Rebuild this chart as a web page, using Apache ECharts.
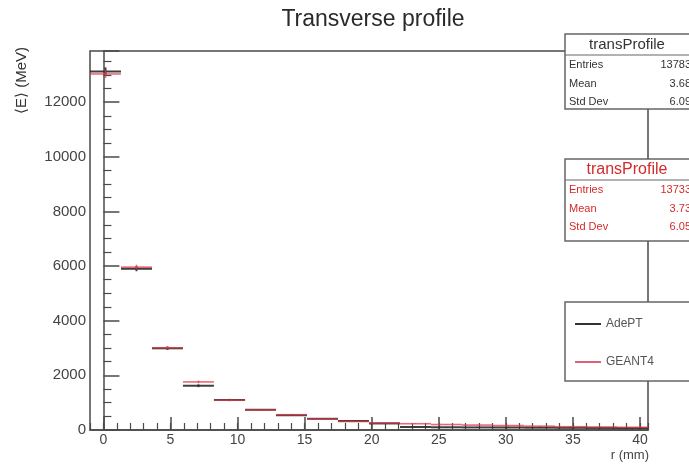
<!DOCTYPE html>
<html>
<head>
<meta charset="utf-8">
<script src="https://cdn.jsdelivr.net/npm/echarts@6/dist/echarts.min.js"></script>
<style>
  html, body { margin: 0; padding: 0; background: #fff; }
  #chart { width: 689px; height: 465px; }
</style>
</head>
<body>
<div id="chart"></div>
<script>
// bin edges of the histogram, in mm
const binEdges = [-1, 1.31, 3.62, 5.93, 8.24, 10.56, 12.87, 15.18, 17.49, 19.8,
                  22.11, 24.42, 26.73, 29.04, 31.36, 33.67, 35.98, 38.29, 40.6]
// <E> per bin, MeV
const adept = [13120, 5900, 2990, 1620, 1100, 740, 540, 410, 330, 240, 110, 100, 95, 90, 85, 80, 75, 70]
const adeptErr = [150, 90, 60, 50, 40, 30, 25, 20, 20, 15, 10, 10, 10, 10, 10, 10, 10, 10]
const geant4 = [13030, 5960, 3010, 1760, 1090, 730, 560, 400, 310, 260, 230, 200, 180, 160, 140, 120, 110, 100]
const geant4Err = [150, 90, 60, 50, 40, 30, 25, 20, 20, 15, 10, 10, 10, 10, 10, 10, 10, 10]
const xMajor = [0, 5, 10, 15, 20, 25, 30, 35, 40]

const chart = echarts.init(document.getElementById('chart'))

function toBins(vals, errs) {
    return vals.map((v, i) => [binEdges[i], binEdges[i + 1], v, errs[i]])
}

function histRender(color, width, opacity) {
    return function (params, api) {
        const lo = api.value(0), hi = api.value(1), v = api.value(2), e = api.value(3)
        const mid = (lo + hi) / 2
        const a = api.coord([lo, v]), b = api.coord([hi, v])
        const c = api.coord([mid, v - e]), d = api.coord([mid, v + e])
        const style = { stroke: color, lineWidth: width, opacity: opacity }
        return {
            type: 'group',
            children: [
                { type: 'line', shape: { x1: a[0], y1: a[1], x2: b[0], y2: b[1] }, style: style },
                { type: 'line', shape: { x1: c[0], y1: c[1], x2: d[0], y2: d[1] }, style: style }
            ]
        }
    }
}

const axisColor = '#4a4a4a'
const textColor = '#444'
const font = 'Liberation Sans, Arial, sans-serif'

function statBox(top, bottom, color, titleSize, vals) {
    const x0 = 565
    const rows = [['Entries', vals[0]], ['Mean', vals[1]], ['Std Dev', vals[2]]]
    const items = [
        { type: 'rect', shape: { x: x0, y: top, width: 140, height: bottom - top },
          style: { fill: '#fff', stroke: '#666', lineWidth: 1.5 }, z: 100 },
        { type: 'line', shape: { x1: x0, y1: top + 21, x2: 689, y2: top + 21 },
          style: { stroke: '#666', lineWidth: 1 }, z: 101 },
        { type: 'text', x: 627, y: top + 11, z: 101,
          style: { text: 'transProfile', fill: color, font: titleSize + 'px ' + font,
                   textAlign: 'center', textVerticalAlign: 'middle' } }
    ]
    rows.forEach((r, i) => {
        const y = top + 31 + i * 18.5
        items.push({ type: 'text', x: x0 + 4, y: y, z: 101,
            style: { text: r[0], fill: color, font: '11px ' + font, textVerticalAlign: 'middle' } })
        items.push({ type: 'text', x: 691, y: y, z: 101,
            style: { text: r[1], fill: color, font: '11px ' + font, textAlign: 'right', textVerticalAlign: 'middle' } })
    })
    return items
}

chart.setOption({
    animation: false,
    grid: { left: 90, right: 41, top: 51, bottom: 35, show: true, borderColor: axisColor, borderWidth: 1.5 },
    title: {
        text: 'Transverse profile', left: 368, textAlign: 'center', top: 3,
        textStyle: { fontFamily: font, fontSize: 23, fontWeight: 'normal', color: '#2a2a2a' }
    },
    legend: {
        left: 570, top: 313, orient: 'vertical', itemGap: 26,
        itemWidth: 26, itemHeight: 2, icon: 'rect', z: 110,
        textStyle: { fontFamily: font, fontSize: 12, color: '#555' },
        data: ['AdePT', 'GEANT4']
    },
    xAxis: [{
        type: 'value', min: -1, max: 40.6, position: 'bottom',
        axisLine: { lineStyle: { color: axisColor, width: 1.5 } },
        axisTick: { inside: true, length: 13, customValues: xMajor, lineStyle: { color: axisColor, width: 1.5 } },
        axisLabel: { customValues: xMajor, color: textColor, fontSize: 14, fontFamily: font, margin: 3 },
        splitLine: { show: false }
    }, {
        type: 'value', min: -1, max: 40.6, interval: 1, position: 'bottom',
        axisLine: { show: false },
        axisTick: { inside: true, length: 7, lineStyle: { color: axisColor, width: 1.2 } },
        axisLabel: { show: false },
        splitLine: { show: false }
    }],
    yAxis: {
        type: 'value', min: 0, max: 13870, interval: 2000,
        axisLine: { lineStyle: { color: axisColor, width: 1.5 } },
        axisTick: { inside: true, length: 16, lineStyle: { color: axisColor, width: 1.5 } },
        minorTick: { show: true, splitNumber: 4, length: 8, lineStyle: { color: axisColor, width: 1.2 } },
        axisLabel: { color: textColor, fontSize: 15, fontFamily: font, margin: 4, showMaxLabel: false,
                     formatter: v => String(v) },
        splitLine: { show: false }
    },
    series: [{
        name: 'AdePT', type: 'custom', xAxisIndex: 0,
        itemStyle: { color: '#333' },
        renderItem: histRender('#2a2a2a', 2, 0.9),
        data: toBins(adept, adeptErr)
    }, {
        name: 'GEANT4', type: 'custom', xAxisIndex: 0,
        itemStyle: { color: '#e0607a' },
        renderItem: histRender('#e03a4a', 1.6, 0.75),
        data: toBins(geant4, geant4Err)
    }],
    graphic: [
        { type: 'text', x: 22, y: 47, rotation: Math.PI / 2,
          style: { text: '\u27e8E\u27e9 (MeV)', fill: '#333', font: '15px ' + font,
                   textAlign: 'right', textVerticalAlign: 'middle' } },
        { type: 'text', x: 649, y: 455,
          style: { text: 'r (mm)', fill: '#444', font: '13px ' + font,
                   textAlign: 'right', textVerticalAlign: 'middle' } },
        ...statBox(34, 109, '#333', 15, ['13783', '3.68', '6.09']),
        ...statBox(159, 241, '#d42a2a', 16, ['13733', '3.73', '6.05']),
        { type: 'rect', shape: { x: 565, y: 302, width: 140, height: 79 },
          style: { fill: '#fff', stroke: '#666', lineWidth: 1.5 }, z: 100 }
    ]
})
</script>
</body>
</html>
